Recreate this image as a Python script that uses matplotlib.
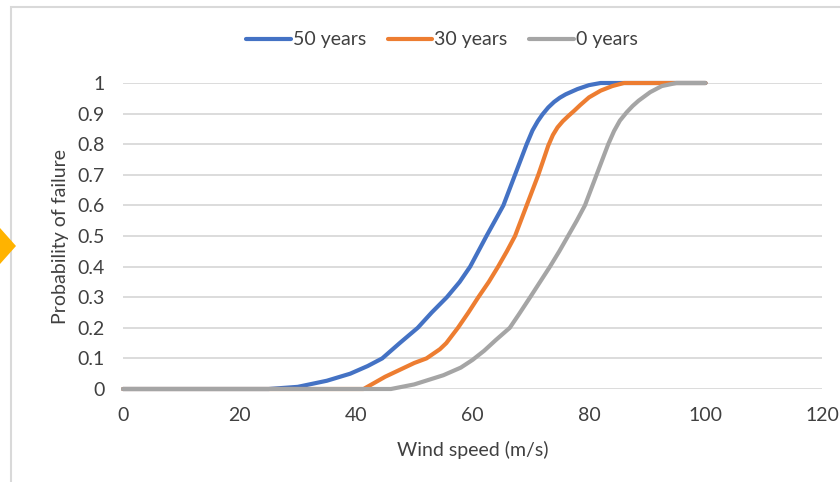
import matplotlib
matplotlib.use("Agg")
import matplotlib.pyplot as plt
from matplotlib.patches import Rectangle, Polygon

plt.rcParams['font.family'] = ['Lato', 'DejaVu Sans']

# Data
x_50 = [0, 5, 10, 15, 20, 25, 30, 35, 39, 42, 44.5, 47.5, 50.6, 53, 55.6, 57.8, 59.6, 61, 62.4, 64,
        65.3, 66.3, 67.3, 68.3, 69.3, 70.3, 71.2, 72, 73, 74, 75, 76, 78, 80, 82, 85, 90, 95, 100]
y_50 = [0, 0, 0, 0, 0, 0, 0.007, 0.027, 0.05, 0.075, 0.1, 0.15, 0.2, 0.25, 0.3, 0.35, 0.4, 0.45, 0.5, 0.555,
        0.6, 0.65, 0.7, 0.75, 0.8, 0.845, 0.875, 0.897, 0.92, 0.938, 0.952, 0.963, 0.98, 0.993, 1, 1, 1, 1, 1]

x_30 = [0, 5, 10, 15, 20, 25, 30, 35, 40, 41.3, 45, 50, 52.1, 54.4, 55.5, 57.5, 59.3, 61, 62.8, 64.4,
        65.9, 67.3, 68.3, 69.3, 70.3, 71.3, 72.2, 73, 73.8, 74.6, 75.5, 76.5, 77.5, 78.5, 80, 82, 84, 86, 90, 95, 100]
y_30 = [0, 0, 0, 0, 0, 0, 0, 0, 0, 0, 0.04, 0.085, 0.1, 0.13, 0.15, 0.2, 0.25, 0.3, 0.35, 0.4,
        0.45, 0.5, 0.55, 0.6, 0.65, 0.7, 0.75, 0.795, 0.83, 0.855, 0.875, 0.893, 0.91, 0.928, 0.953, 0.975, 0.99, 1, 1, 1, 1]

x_0 = [0, 5, 10, 15, 20, 25, 30, 35, 40, 45, 46, 50, 55, 58, 60, 62, 64, 66.4, 68, 69.9, 71.6, 73.3,
       74.9, 76.4, 77.9, 79.3, 80.3, 81.3, 82.3, 83.3, 84.3, 85.3, 86.5, 87.5, 88.5, 90.5, 92.5, 95, 100]
y_0 = [0, 0, 0, 0, 0, 0, 0, 0, 0, 0, 0, 0.015, 0.045, 0.07, 0.095, 0.125, 0.16, 0.2, 0.245, 0.3, 0.35, 0.4,
       0.45, 0.5, 0.55, 0.6, 0.65, 0.7, 0.75, 0.8, 0.843, 0.877, 0.905, 0.925, 0.942, 0.97, 0.99, 1, 1]

labels = ["50 years", "30 years", "0 years"]
colors = ["#4472C4", "#ED7D31", "#A5A5A5"]

x_ticks = [0, 20, 40, 60, 80, 100, 120]
y_ticks = [0, 0.1, 0.2, 0.3, 0.4, 0.5, 0.6, 0.7, 0.8, 0.9, 1]
y_tick_labels = ["0", "0.1", "0.2", "0.3", "0.4", "0.5", "0.6", "0.7", "0.8", "0.9", "1"]

fig = plt.figure(figsize=(8.4, 4.82), dpi=100)
ax = fig.add_axes([123/840, 1-389/482, (822-123)/840, (389-83)/482])

# chart border and arrow
fig.patches.append(Rectangle((11/840, -0.1), 1.0, 1-7/482+0.1, transform=fig.transFigure,
                             fill=False, edgecolor="#D9D9D9", linewidth=1.5, zorder=0))
fig.patches.append(Polygon([(0, 1-228/482), (16/840, 1-246/482), (0, 1-264/482)],
                           closed=True, transform=fig.transFigure,
                           facecolor="#FFB300", edgecolor="none", zorder=0))

for xs, ys, lab, col in zip([x_50, x_30, x_0], [y_50, y_30, y_0], labels, colors):
    ax.plot(xs, ys, color=col, linewidth=3, label=lab, solid_capstyle='round',
            solid_joinstyle='round', clip_on=False, zorder=3)

ax.set_xlim(0, 120)
ax.set_ylim(0, 1)
ax.set_xticks(x_ticks)
ax.set_yticks(y_ticks)
ax.set_yticklabels(y_tick_labels)
ax.tick_params(axis='both', length=0, labelsize=14, colors="#404040")
ax.tick_params(axis='y', pad=13)
ax.tick_params(axis='x', pad=13)
ax.grid(axis='y', color="#D9D9D9", linewidth=1.3)
ax.set_axisbelow(True)
for s in ax.spines.values():
    s.set_visible(False)

ax.set_xlabel("Wind speed (m/s)", fontsize=14, color="#404040", labelpad=12)
ax.set_ylabel("Probability of failure", fontsize=14, color="#404040", labelpad=6)

fig.legend(loc='center', bbox_to_anchor=(442/840, 1-40/482), ncol=3, frameon=False,
           fontsize=14, handlelength=2.3, handletextpad=0.1, columnspacing=1.1,
           labelcolor="#404040")

fig.savefig("out.png", dpi=100)
